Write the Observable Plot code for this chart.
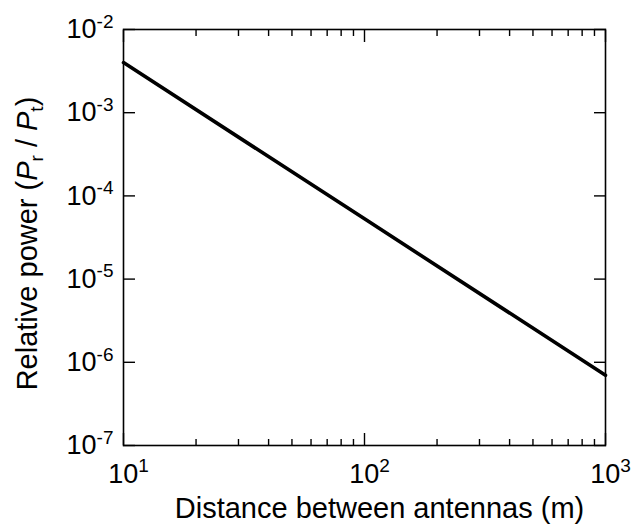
<!DOCTYPE html>
<html><head><meta charset="utf-8">
<script src="https://cdn.jsdelivr.net/npm/d3@7"></script>
<script src="https://cdn.jsdelivr.net/npm/@observablehq/plot@0.6"></script>
<style>
body{margin:0;background:#fff}
svg{font-family:"Liberation Sans",Arial,sans-serif}
</style>
</head><body><div id="chart"></div>
<script>
// data
const distance = [10, 100, 1000];
const relPower = [4.0e-3, 5.3e-5, 7.0e-7];
const xMajor = [10, 100, 1000];
const xMinor = [20, 30, 40, 50, 60, 70, 80, 90, 200, 300, 400, 500, 600, 700, 800, 900];
const yMajor = [1e-7, 1e-6, 1e-5, 1e-4, 1e-3, 1e-2];
const xTitle = "Distance between antennas (m)";
const yTitle = "Relative power (P_r / P_t)";

const data = distance.map((d, i) => ({d, p: relPower[i]}));
const expFmt = v => "10^" + Math.round(Math.log10(v));

const plot = Plot.plot({
  width: 631, height: 524,
  marginLeft: 123, marginRight: 26, marginTop: 29, marginBottom: 79,
  style: {fontFamily: '"Liberation Sans", Arial, sans-serif', background: "#fff", color: "#000"},
  x: {type: "log", domain: [10, 1000]},
  y: {type: "log", domain: [1e-7, 1e-2]},
  marks: [
    Plot.frame({stroke: "#000", strokeWidth: 1.6}),
    // major / minor inward ticks on all sides
    Plot.axisX(xMajor, {anchor: "bottom", tickSize: -12, strokeWidth: 1.4, text: null, label: null}),
    Plot.axisX(xMajor, {anchor: "top", tickSize: -12, strokeWidth: 1.4, text: null, label: null}),
    Plot.axisX(xMinor, {anchor: "bottom", tickSize: -6, strokeWidth: 1.4, text: null, label: null}),
    Plot.axisX(xMinor, {anchor: "top", tickSize: -6, strokeWidth: 1.4, text: null, label: null}),
    Plot.axisY(yMajor, {anchor: "left", tickSize: -12, strokeWidth: 1.4, text: null, label: null}),
    Plot.axisY(yMajor, {anchor: "right", tickSize: -12, strokeWidth: 1.4, text: null, label: null}),
    // tick labels
    Plot.axisX(xMajor, {anchor: "bottom", tickSize: 0, tickPadding: 18, dx: 5, fontSize: 27, tickFormat: expFmt, label: null}),
    Plot.axisY(yMajor, {anchor: "left", tickSize: 0, tickPadding: 10, fontSize: 27, tickFormat: expFmt, label: null}),
    // titles
    Plot.text([xTitle], {frameAnchor: "bottom", dx: 15, dy: 63, fontSize: 29, lineAnchor: "middle", fill: "#000"}),
    Plot.text([yTitle], {frameAnchor: "left", textAnchor: "middle", rotate: -90, dx: -96, dy: 6, fontSize: 29, lineAnchor: "middle", fill: "#000"}),
    // data
    Plot.line(data, {x: "d", y: "p", stroke: "#000", strokeWidth: 3.6})
  ]
});

// superscripts for tick labels, italics/subscripts for the y title
d3.select(plot).selectAll("text").each(function() {
  const t = d3.select(this);
  const s = this.textContent;
  let m = /^10\^(-?\d+)$/.exec(s);
  if (m) {
    t.text("");
    t.append("tspan").text("10");
    t.append("tspan").attr("font-size", 19).attr("dy", "-0.55em").text(m[1]);
    return;
  }
  if (s === yTitle) {
    t.text("");
    t.append("tspan").text("Relative power (");
    t.append("tspan").attr("font-style", "italic").text("P");
    t.append("tspan").attr("font-size", 19).attr("dy", 6).text("r");
    t.append("tspan").attr("dy", -6).text(" / ");
    t.append("tspan").attr("font-style", "italic").text("P");
    t.append("tspan").attr("font-size", 19).attr("dy", 6).text("t");
    t.append("tspan").attr("dy", -6).text(")");
  }
});

document.getElementById("chart").appendChild(plot);
</script>
</body></html>
